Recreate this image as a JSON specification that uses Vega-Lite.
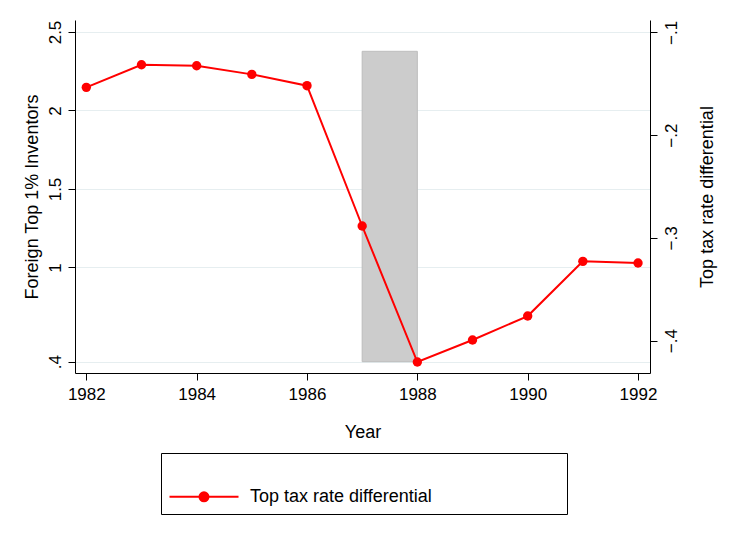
{
  "$schema": "https://vega.github.io/schema/vega-lite/v6.json",
  "width": 575,
  "height": 353,
  "autosize": {"type": "none"},
  "padding": {"left": 75, "top": 20, "right": 91, "bottom": 166},
  "background": "white",
  "config": {
    "font": "Liberation Sans",
    "view": {"stroke": null},
    "axis": {
      "domainColor": "#000000",
      "tickColor": "#000000",
      "labelColor": "#000000",
      "titleColor": "#000000",
      "labelFontSize": 17,
      "titleFontSize": 18,
      "titleFontWeight": "normal",
      "tickSize": 7,
      "domainWidth": 1,
      "tickWidth": 1
    }
  },
  "datasets": {
    "bar": [{"start": 1987, "end": 1988, "low": 0.4, "high": 2.377}],
    "tax": [
      {"year": 1982, "diff": -0.1535, "series": "Top tax rate differential"},
      {"year": 1983, "diff": -0.1315, "series": "Top tax rate differential"},
      {"year": 1984, "diff": -0.1325, "series": "Top tax rate differential"},
      {"year": 1985, "diff": -0.1409, "series": "Top tax rate differential"},
      {"year": 1986, "diff": -0.1519, "series": "Top tax rate differential"},
      {"year": 1987, "diff": -0.2884, "series": "Top tax rate differential"},
      {"year": 1988, "diff": -0.4207, "series": "Top tax rate differential"},
      {"year": 1989, "diff": -0.3993, "series": "Top tax rate differential"},
      {"year": 1990, "diff": -0.3760, "series": "Top tax rate differential"},
      {"year": 1991, "diff": -0.3228, "series": "Top tax rate differential"},
      {"year": 1992, "diff": -0.3244, "series": "Top tax rate differential"}
    ]
  },
  "layer": [
    {
      "data": {"name": "bar"},
      "mark": {"type": "rect", "fill": "#cccccc", "stroke": "#bdbdbd", "strokeWidth": 1},
      "encoding": {
        "x": {
          "field": "start", "type": "quantitative",
          "scale": {"domain": [1981.795, 1992.217], "nice": false, "zero": false},
          "axis": {"values": [1982, 1984, 1986, 1988, 1990, 1992], "format": "d", "title": "Year", "grid": false, "labelPadding": 6, "titlePadding": 21, "labelFlush": false}
        },
        "x2": {"field": "end"},
        "y": {
          "field": "low", "type": "quantitative",
          "scale": {"domain": [0.328, 2.5764], "nice": false, "zero": false},
          "axis": {
            "values": [0.4, 1, 1.5, 2, 2.5],
            "labelExpr": "datum.value < 1 ? replace(format(datum.value, '.1f'), '0.', '.') : format(datum.value, '~g')",
            "title": "Foreign Top 1% Inventors",
            "grid": true, "gridColor": "#e6eef0", "gridWidth": 1,
            "labelAngle": -90, "labelAlign": "center", "labelBaseline": "alphabetic", "labelPadding": 7.7,
            "titleAngle": -90, "titleX": -37.3, "titleY": 176.5, "titleAlign": "center", "titleBaseline": "alphabetic"
          }
        },
        "y2": {"field": "high"}
      }
    },
    {
      "data": {"name": "tax"},
      "layer": [
        {
          "mark": {"type": "line", "strokeWidth": 2},
          "encoding": {
            "x": {
              "field": "year", "type": "quantitative",
              "scale": {"domain": [1981.795, 1992.217], "nice": false, "zero": false},
              "axis": {"values": [1982, 1984, 1986, 1988, 1990, 1992], "format": "d", "title": "Year", "grid": false, "labelPadding": 6, "titlePadding": 21, "labelFlush": false}
            },
            "y": {
              "field": "diff", "type": "quantitative",
              "scale": {"domain": [-0.4314, -0.088], "nice": false, "zero": false},
              "axis": {
                "orient": "right",
                "values": [-0.4, -0.3, -0.2, -0.1],
                "labelExpr": "replace(format(datum.value, '.1f'), '0.', '.')",
                "title": "Top tax rate differential",
                "grid": false,
                "labelAngle": -90, "labelAlign": "center", "labelBaseline": "top", "labelPadding": 6,
                "titleAngle": -90, "titleX": 62, "titleY": 176.5, "titleAlign": "center", "titleBaseline": "alphabetic"
              }
            },
            "color": {
              "field": "series", "type": "nominal",
              "scale": {"range": ["#ff0000"]},
              "legend": {
                "orient": "none", "legendX": 86, "legendY": 433,
                "title": "\u2800\u2800\u2800\u2800\u2800\u2800\u2800\u2800\u2800\u2800\u2800\u2800\u2800\u2800\u2800\u2800\u2800\u2800\u2800\u2800\u2800\u2800\u2800\u2800\u2800\u2800\u2800\u2800\u2800\u2800",
                "titleFontSize": 17.8, "titlePadding": 9, "titleLimit": 1000,
                "padding": 8, "strokeColor": "#000000",
                "symbolType": "M-1.545,0H11.0M3.905,0A0.82,0.82 0 1,0 5.545,0A0.82,0.82 0 1,0 3.905,0M4.175,0A0.55,0.55 0 1,0 5.275,0A0.55,0.55 0 1,0 4.175,0M4.455,0A0.27,0.27 0 1,0 4.995,0A0.27,0.27 0 1,0 4.455,0M4.635,0A0.09,0.09 0 1,0 4.815,0A0.09,0.09 0 1,0 4.635,0",
                "symbolSize": 121, "symbolStrokeWidth": 2, "symbolStrokeColor": "#ff0000", "symbolFillColor": "#ff0000",
                "labelFontSize": 18, "labelColor": "#000000", "labelOffset": 63, "labelLimit": 400
              }
            }
          }
        },
        {
          "mark": {"type": "point", "filled": true, "size": 88, "color": "#ff0000", "opacity": 1},
          "encoding": {
            "x": {
              "field": "year", "type": "quantitative",
              "scale": {"domain": [1981.795, 1992.217], "nice": false, "zero": false},
              "axis": {"values": [1982, 1984, 1986, 1988, 1990, 1992], "format": "d", "title": "Year", "grid": false, "labelPadding": 6, "titlePadding": 21, "labelFlush": false}
            },
            "y": {
              "field": "diff", "type": "quantitative",
              "scale": {"domain": [-0.4314, -0.088], "nice": false, "zero": false},
              "axis": {
                "orient": "right",
                "values": [-0.4, -0.3, -0.2, -0.1],
                "labelExpr": "replace(format(datum.value, '.1f'), '0.', '.')",
                "title": "Top tax rate differential",
                "grid": false,
                "labelAngle": -90, "labelAlign": "center", "labelBaseline": "top", "labelPadding": 6,
                "titleAngle": -90, "titleX": 62, "titleY": 176.5, "titleAlign": "center", "titleBaseline": "alphabetic"
              }
            }
          }
        }
      ]
    }
  ],
  "resolve": {"scale": {"y": "independent"}}
}
